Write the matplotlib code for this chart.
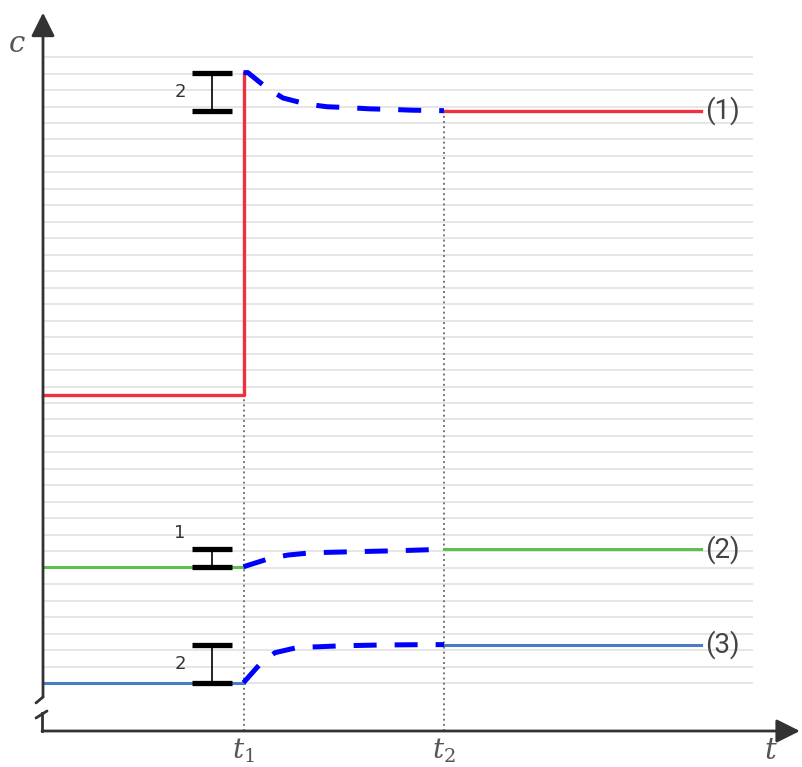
import matplotlib.pyplot as plt

# time markers and end of the plotted lines (t units)
t1, t2, t_end = 1.0, 2.0, 3.28
grid_levels = list(range(39))
grid_end = 3.54

# levels of the three solutions (c units = grid steps)
red_before, red_peak, red_after = 17.46, 37.06, 34.75
green_before, green_after = 7.06, 8.12
blue_before, blue_after = 0.0, 2.33

# dashed transition curves
red_t = [1.0, 1.022, 1.116, 1.197, 1.315, 1.415, 1.515, 1.631, 1.731, 1.839, 1.945, 2.0]
red_c = [37.06, 37.06, 36.13, 35.52, 35.15, 34.99, 34.94, 34.86, 34.83, 34.78, 34.76, 34.75]
green_t = [1.0, 1.132, 1.222, 1.340, 1.546, 1.764, 2.0]
green_c = [7.06, 7.57, 7.77, 7.91, 7.97, 8.03, 8.12]
blue_t = [1.0, 1.086, 1.157, 1.273, 1.373, 1.49, 1.697, 1.914, 2.0]
blue_c = [0.02, 1.20, 1.84, 2.17, 2.20, 2.26, 2.31, 2.33, 2.33]

curve_labels = ['(1)', '(2)', '(3)']
bar_labels = ['2', '1', '2']

plt.rcParams['mathtext.fontset'] = 'dejavuserif'

fig = plt.figure(figsize=(8.02, 7.67), dpi=100)
ax = fig.add_axes([0, 0, 1, 1])
ax.set_xlim(-0.2145, 3.7855)
ax.set_ylim(-5.10, 41.47)
ax.axis('off')

red, green, blue = '#f0303c', '#5cbf4e', '#4b7bc5'
axis_col = '#333333'

# background grid
ax.hlines(grid_levels, 0, grid_end, color='#e2e2e2', lw=1.2, zorder=0)

# dotted time markers
y_axis = -2.914
ax.plot([t1, t1], [y_axis, red_before], ls=':', color='#777777', lw=1.4, zorder=1)
ax.plot([t2, t2], [y_axis, red_after], ls=':', color='#777777', lw=1.4, zorder=1)

# solid steps
ax.plot([0, t1, t1], [red_before, red_before, red_peak], color=red, lw=2.4, zorder=3)
ax.plot([t2, t_end], [red_after, red_after], color=red, lw=2.4, zorder=3)
ax.plot([0, t1], [green_before, green_before], color=green, lw=2.2, zorder=3)
ax.plot([t2, t_end], [green_after, green_after], color=green, lw=2.2, zorder=3)
ax.plot([0, t1], [blue_before, blue_before], color=blue, lw=2.2, zorder=3)
ax.plot([t2, t_end], [blue_after, blue_after], color=blue, lw=2.2, zorder=3)

# dashed transients
for tt, cc in [(red_t, red_c), (green_t, green_c), (blue_t, blue_c)]:
    ax.plot(tt, cc, color='#0000ff', lw=3.6, dashes=(4.6, 3.6), zorder=4)

# curve labels
for lab, yv in zip(curve_labels, [red_after, green_after, blue_after]):
    ax.text(t_end + 0.02, yv, lab, fontsize=20, color='#444444', family='Roboto',
            ha='left', va='center')

# jump bars
bar_x = 0.843
for lo, hi in [(red_after, red_peak), (green_before, green_after), (blue_before, blue_after)]:
    ax.errorbar(bar_x, (lo + hi) / 2, yerr=(hi - lo) / 2, fmt='none', ecolor='black',
                elinewidth=1.2, capsize=14.5, capthick=3.8, zorder=5)
ax.text(0.683, (red_after + red_peak) / 2, bar_labels[0], fontsize=13, color='#333333',
        ha='center', va='center')
ax.text(0.683, 9.1, bar_labels[1], fontsize=13, color='#333333', ha='center', va='center')
ax.text(0.683, (blue_before + blue_after) / 2, bar_labels[2], fontsize=13, color='#333333',
        ha='center', va='center')

# axes with arrows and a break on the c axis
arrow = dict(arrowstyle='-|>,head_length=0.6,head_width=0.3', mutation_scale=24,
             lw=2.0, color=axis_col, shrinkA=0, shrinkB=0)
ax.annotate('', xy=(0, 40.7), xytext=(0, -0.85), arrowprops=arrow, annotation_clip=False)
ax.annotate('', xy=(3.775, y_axis), xytext=(-0.005, y_axis), arrowprops=arrow,
            annotation_clip=False)
ax.plot([0, -0.035], [-0.85, -1.21], color=axis_col, lw=2.0, solid_capstyle='round')
ax.plot([-0.035, 0.02], [-2.125, -1.70], color=axis_col, lw=2.0, solid_capstyle='round')
ax.plot([-0.005, -0.005], [-1.85, y_axis], color=axis_col, lw=2.0)

# axis labels
ax.text(-0.13, 38.8, r'$c$', fontsize=21, color='#555555', ha='center', va='center')
ax.text(3.63, -4.1, r'$t$', fontsize=21, color='#555555', ha='center', va='center')
ax.text(t1, -4.1, r'$t_1$', fontsize=20, color='#555555', ha='center', va='center')
ax.text(t2, -4.1, r'$t_2$', fontsize=20, color='#555555', ha='center', va='center')

fig.savefig('out.png', dpi=100)
